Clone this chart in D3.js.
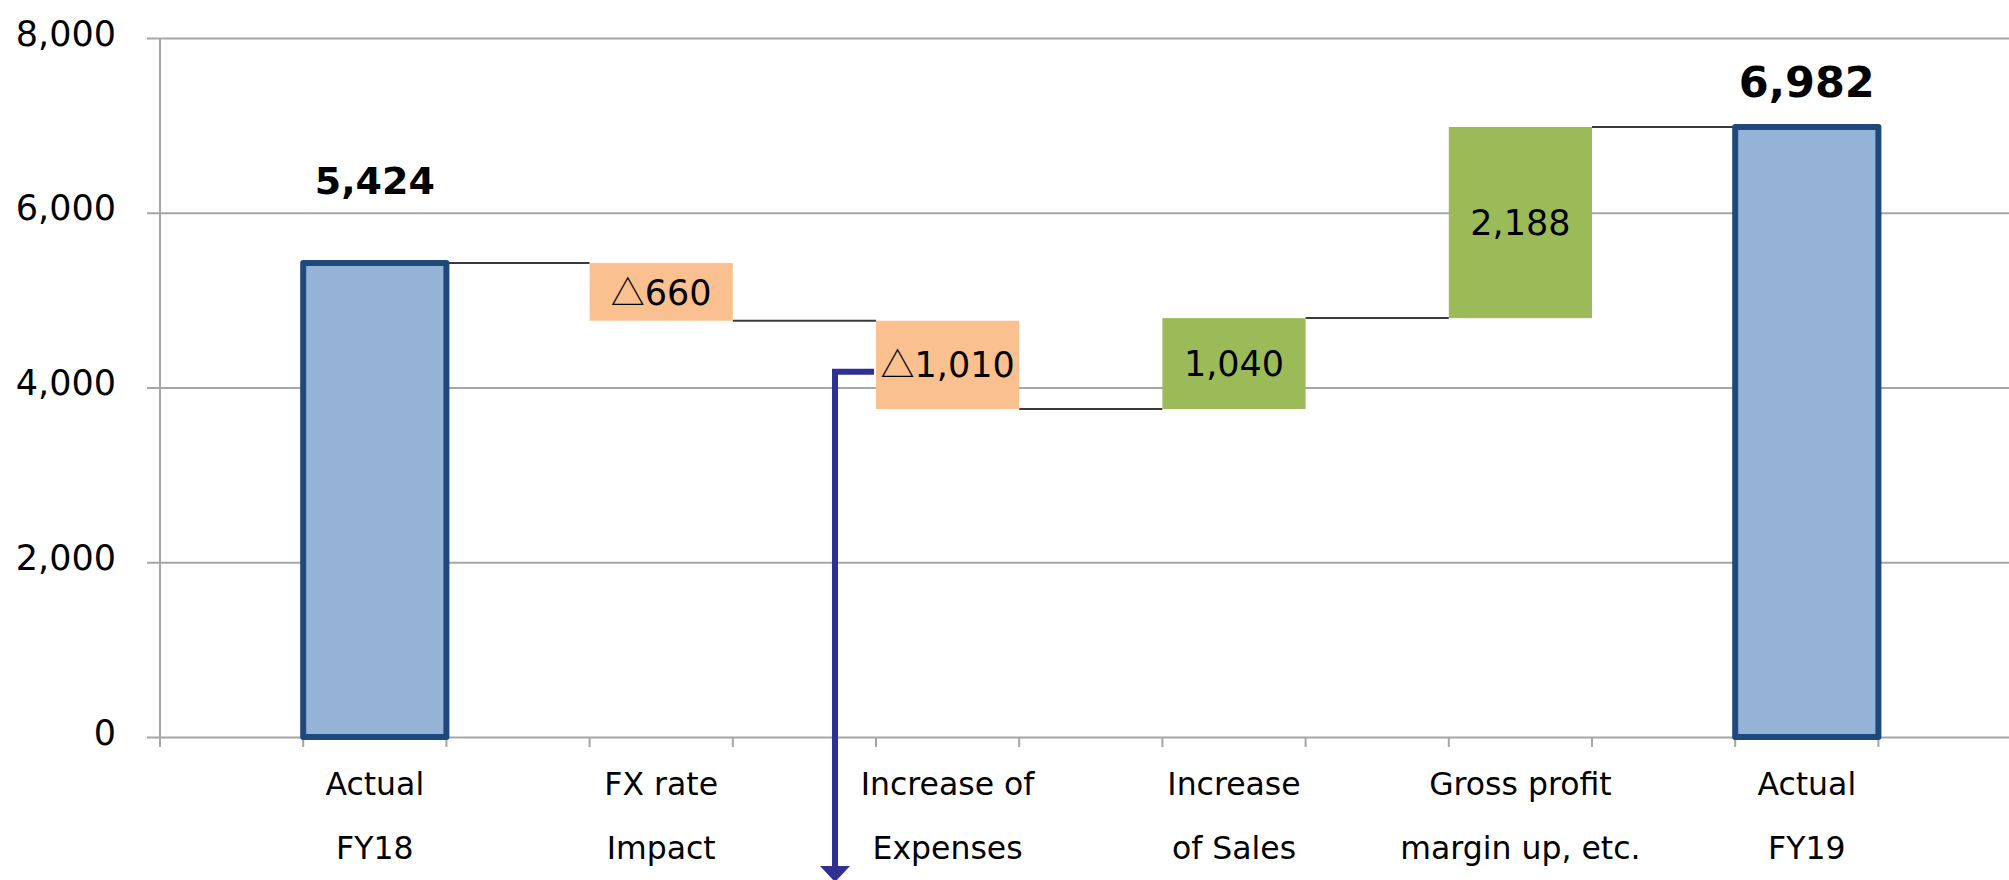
<!DOCTYPE html>
<html>
<head>
<meta charset="utf-8">
<script src="https://cdn.jsdelivr.net/npm/d3@7"></script>
<style>
  html, body { margin: 0; padding: 0; background: #fff; }
  text { font-family: "DejaVu Sans", sans-serif; fill: #000; }
</style>
</head>
<body>
<div id="chart"></div>
<script>
'use strict';

// chart values
let categories = ["Actual\nFY18", "FX rate\nImpact", "Increase of\nExpenses",
                  "Increase\nof Sales", "Gross profit\nmargin up, etc.", "Actual\nFY19"];
let values = [5424, -660, -1010, 1040, 2188, 6982];
let barKinds = ["total", "delta", "delta", "delta", "delta", "total"];
let barLabels = ["5,424", "\u25B3660", "\u25B31,010", "1,040", "2,188", "6,982"];
let yTicks = [0, 2000, 4000, 6000, 8000];

(function() {

  let width = 2009;
  let height = 880;
  let svgContainer = "";

  window.onload = function() {
    svgContainer = d3.select('#chart')
      .append('svg')
      .attr('width', width)
      .attr('height', height);
    makeWaterfall();
  }

  function makeWaterfall() {
    // running start / end of every bar
    let running = 0;
    let bars = categories.map((c, i) => {
      let start, end;
      if (barKinds[i] == "total") {
        start = 0;
        end = values[i];
      } else {
        start = running;
        end = running + values[i];
      }
      running = end;
      return {cat: c, kind: barKinds[i], start: start, end: end, label: barLabels[i], i: i};
    });

    let xScale = d3.scaleBand()
      .domain(categories)
      .range([160, 2021.6])
      .paddingInner(0.5)
      .paddingOuter(0.5);

    let yScale = d3.scaleLinear()
      .domain([0, 8000])
      .range([737, 38]);

    drawAxes(xScale, yScale);
    plotBars(bars, xScale, yScale);
    drawArrow(xScale, yScale);
  }

  // gridlines, ticks and tick labels
  function drawAxes(xScale, yScale) {
    let yAxis = d3.axisLeft(yScale)
      .tickValues(yTicks)
      .tickSize(-(width - 160 + 20))
      .tickPadding(44)
      .tickFormat(d3.format(","));
    let gy = svgContainer.append('g')
      .attr('transform', 'translate(160, 0)')
      .call(yAxis);
    gy.select('.domain').remove();
    gy.selectAll('.tick line')
      .attr('x1', -13)
      .attr('stroke', '#a6a6a6')
      .attr('stroke-width', 2);
    gy.selectAll('.tick text')
      .attr('dy', '0.2em')
      .style('font-size', '35px')
      .style('font-family', '"DejaVu Sans", sans-serif')
      .attr('fill', '#000');

    // y axis line
    svgContainer.append('line')
      .attr('x1', 160).attr('x2', 160)
      .attr('y1', yScale(8000)).attr('y2', yScale(0) + 10)
      .attr('stroke', '#a6a6a6')
      .attr('stroke-width', 2);

    // category tick marks at every bar edge
    let bw = xScale.bandwidth();
    let tickXs = [xScale.range()[0]];
    categories.forEach((c) => {
      tickXs.push(xScale(c));
      tickXs.push(xScale(c) + bw);
    });
    tickXs.push(xScale.range()[1]);
    svgContainer.selectAll('.xtick')
      .data(tickXs)
      .enter()
      .append('line')
        .attr('class', 'xtick')
        .attr('x1', (d) => d).attr('x2', (d) => d)
        .attr('y1', yScale(0)).attr('y2', yScale(0) + 10)
        .attr('stroke', '#a6a6a6')
        .attr('stroke-width', 2);

    // category labels, two lines each
    let labels = svgContainer.selectAll('.xlabel')
      .data(categories)
      .enter()
      .append('text')
        .attr('class', 'xlabel')
        .attr('text-anchor', 'middle')
        .style('font-size', '31.5px');
    labels.each(function(d) {
      let lines = d.split("\n");
      let cx = xScale(d) + bw / 2;
      lines.forEach((line, k) => {
        d3.select(this).append('tspan')
          .attr('x', cx)
          .attr('y', 795 + k * 64)
          .text(line);
      });
    });
  }

  // bars, connectors and value labels
  function plotBars(bars, xScale, yScale) {
    let bw = xScale.bandwidth();

    // connector lines between consecutive bars
    let links = bars.slice(0, -1);
    svgContainer.selectAll('.link')
      .data(links)
      .enter()
      .append('line')
        .attr('x1', (d) => xScale(d.cat) + bw)
        .attr('x2', (d) => xScale(categories[d.i + 1]))
        .attr('y1', (d) => yScale(d.end))
        .attr('y2', (d) => yScale(d.end))
        .attr('stroke', '#3a3a3a')
        .attr('stroke-width', 2);

    svgContainer.selectAll('.bar')
      .data(bars)
      .enter()
      .append('rect')
        .attr('class', 'bar')
        .attr('x', (d) => xScale(d.cat))
        .attr('width', bw)
        .attr('y', (d) => yScale(Math.max(d.start, d.end)))
        .attr('height', (d) => Math.abs(yScale(d.start) - yScale(d.end)))
        .attr('fill', (d) => d.kind == "total" ? "#95b3d7" : (d.end < d.start ? "#fac090" : "#9bbb59"))
        .attr('stroke', (d) => d.kind == "total" ? "#1f497d" : "none")
        .attr('stroke-width', 6)
        .attr('stroke-linejoin', 'round');

    // labels inside the change bars
    let inner = svgContainer.selectAll('.inlabel')
      .data(bars.filter((d) => d.kind == "delta"))
      .enter()
      .append('text')
        .attr('class', 'inlabel')
        .attr('x', (d) => xScale(d.cat) + bw / 2)
        .attr('y', (d) => (yScale(d.start) + yScale(d.end)) / 2)
        .attr('dy', '0.36em')
        .attr('text-anchor', 'middle')
        .style('font-size', '35px');
    inner.each(function(d) {
      let t = d3.select(this);
      if (d.label.startsWith("\u25B3")) {
        t.append('tspan')
          .style('font-family', '"Noto Sans CJK JP", sans-serif')
          .style('font-size', '34px')
          .text("\u25B3");
        t.append('tspan').text(d.label.slice(1));
      } else {
        t.text(d.label);
      }
    });

    // bold totals above the blue bars
    let totalSize = [38, 43];
    let totalGap = [69, 30];
    svgContainer.selectAll('.totlabel')
      .data(bars.filter((d) => d.kind == "total"))
      .enter()
      .append('text')
        .attr('class', 'totlabel')
        .attr('x', (d) => xScale(d.cat) + bw / 2)
        .attr('y', (d, k) => yScale(d.end) - totalGap[k])
        .attr('text-anchor', 'middle')
        .style('font-weight', 'bold')
        .style('font-size', (d, k) => totalSize[k] + 'px')
        .text((d) => d.label);
  }

  // blue call-out arrow from the expenses label
  function drawArrow(xScale, yScale) {
    let bx = xScale(categories[2]);
    let ay = yScale(4180);
    let ax = bx - 41;
    svgContainer.append('path')
      .attr('d', 'M' + (bx - 2) + ',' + ay + 'H' + ax + 'V' + 868)
      .attr('fill', 'none')
      .attr('stroke', '#2e3192')
      .attr('stroke-width', 6);
    svgContainer.append('path')
      .attr('d', 'M' + (ax - 15) + ',866L' + (ax + 15) + ',866L' + ax + ',882Z')
      .attr('fill', '#2e3192');
  }

})();
</script>
</body>
</html>
